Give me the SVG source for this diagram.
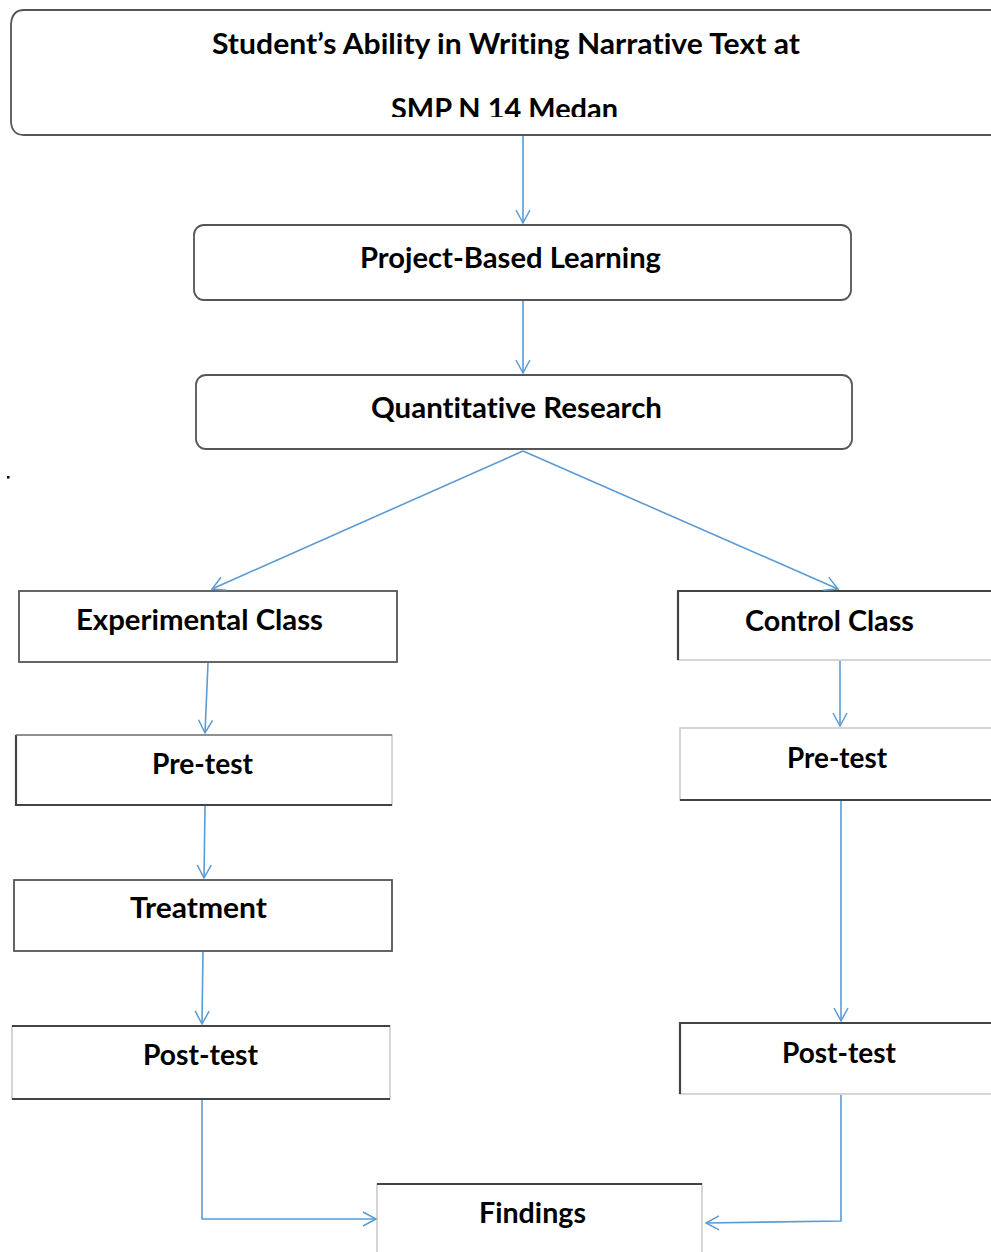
<svg xmlns="http://www.w3.org/2000/svg" width="991" height="1252" viewBox="0 0 991 1252">
<style>
.t{font-family:Lato,"Open Sans","Liberation Sans",sans-serif;font-weight:bold;font-size:28px;fill:#000;font-variant-ligatures:none;font-feature-settings:"liga" 0,"clig" 0}
.lb{fill:#fff;stroke:#c8c8c8;stroke-width:1.5}
.dk{fill:none;stroke:#444;stroke-width:2.2}
.rb{fill:#fff;stroke:#555;stroke-width:1.8}
.c{fill:none;stroke:#5b9bd5;stroke-width:1.6}
</style>
<defs>
<marker id="ah" markerUnits="userSpaceOnUse" markerWidth="16" markerHeight="18" refX="14" refY="8" orient="auto">
<path d="M1,1 L14,8 L1,15" fill="none" stroke="#5b9bd5" stroke-width="1.5"/>
</marker>
<clipPath id="topclip"><rect x="0" y="0" width="991" height="117"/></clipPath>
</defs>
<rect width="991" height="1252" fill="#fff"/>

<g id="n-title">
<path d="M1000,10 L24,10 Q12,10 11,24 L11,122 Q12,135 24,135 L1000,135" class="rb"/>
<text class="t" x="212" y="54" textLength="588" lengthAdjust="spacingAndGlyphs">Student’s Ability in Writing Narrative Text at</text>
<text class="t" x="391" y="119" textLength="227" lengthAdjust="spacingAndGlyphs" clip-path="url(#topclip)">SMP N 14 Medan</text>
</g>

<g id="n-pbl">
<rect x="194" y="225" width="657" height="75" rx="10" class="rb" stroke="#666"/>
<text class="t" x="360" y="268" textLength="301" lengthAdjust="spacingAndGlyphs">Project-Based Learning</text>
</g>

<g id="n-qr">
<rect x="196" y="375" width="656" height="74" rx="10" class="rb" stroke="#666"/>
<text class="t" x="371" y="418" textLength="291" lengthAdjust="spacingAndGlyphs">Quantitative Research</text>
</g>

<g id="dot"><rect x="7" y="476" width="2.5" height="2.5" fill="#000"/></g>

<g id="n-exp">
<rect x="19" y="591" width="378" height="71" class="rb"/>
<text class="t" x="76" y="630" textLength="247" lengthAdjust="spacingAndGlyphs">Experimental Class</text>
</g>

<g id="n-pre-l">
<rect x="16" y="735" width="376" height="70" class="lb"/>
<path d="M16,735 L16,805 L392,805" class="dk"/>
<path d="M16,735 L392,735" fill="none" stroke="#777" stroke-width="1.6"/>
<text class="t" x="152" y="774" textLength="101" lengthAdjust="spacingAndGlyphs">Pre-test</text>
</g>

<g id="n-treat">
<rect x="14" y="880" width="378" height="71" class="rb"/>
<text class="t" x="130" y="918" textLength="137" lengthAdjust="spacingAndGlyphs">Treatment</text>
</g>

<g id="n-post-l">
<rect x="12" y="1026" width="378" height="73" class="lb"/>
<path d="M12,1026 L390,1026 M12,1099 L390,1099" class="dk"/>
<text class="t" x="143" y="1065" textLength="115" lengthAdjust="spacingAndGlyphs">Post-test</text>
</g>

<g id="n-findings">
<rect x="377" y="1184" width="325" height="80" class="lb"/>
<path d="M377,1184 L702,1184" class="dk"/>
<text class="t" x="479" y="1223" textLength="107" lengthAdjust="spacingAndGlyphs">Findings</text>
</g>

<g id="n-ctrl">
<rect x="678" y="591" width="330" height="69" class="lb"/>
<path d="M678,660 L678,591 L1000,591" class="dk"/>
<text class="t" x="745" y="631" textLength="169" lengthAdjust="spacingAndGlyphs">Control Class</text>
</g>

<g id="n-pre-r">
<rect x="680" y="728" width="330" height="72" class="lb"/>
<path d="M680,800 L1000,800" class="dk"/>
<text class="t" x="787" y="768" textLength="100" lengthAdjust="spacingAndGlyphs">Pre-test</text>
</g>

<g id="n-post-r">
<rect x="680" y="1023" width="330" height="71" class="lb"/>
<path d="M680,1094 L680,1023 L1000,1023" class="dk"/>
<text class="t" x="782" y="1063" textLength="114" lengthAdjust="spacingAndGlyphs">Post-test</text>
</g>

<g id="connectors">
<path d="M523,136 L523,223" class="c" marker-end="url(#ah)"/>
<path d="M523,301 L523,373" class="c" marker-end="url(#ah)"/>
<path d="M523,451 L212,589" class="c" marker-end="url(#ah)"/>
<path d="M523,451 L838,589" class="c" marker-end="url(#ah)"/>
<path d="M208,663 L205,733" class="c" marker-end="url(#ah)"/>
<path d="M205,806 L204,878" class="c" marker-end="url(#ah)"/>
<path d="M203,952 L202,1024" class="c" marker-end="url(#ah)"/>
<path d="M840,661 L840,726" class="c" marker-end="url(#ah)"/>
<path d="M841,801 L841,1021" class="c" marker-end="url(#ah)"/>
<path d="M202,1100 L202,1219 L376,1219" class="c" marker-end="url(#ah)"/>
<path d="M841,1095 L841,1221 L706,1223" class="c" marker-end="url(#ah)"/>
</g>
</svg>
